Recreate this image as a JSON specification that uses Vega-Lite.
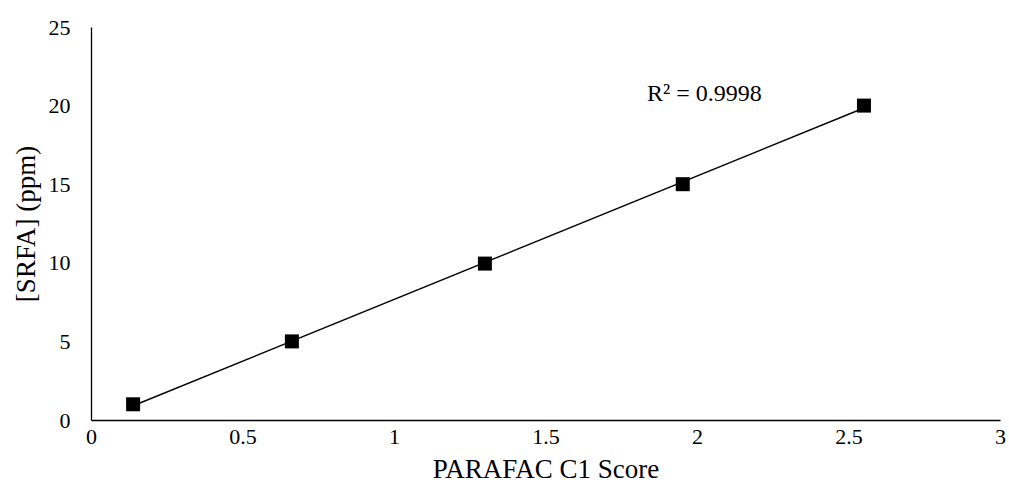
{
  "$schema": "https://vega.github.io/schema/vega-lite/v6.json",
  "autosize": "none",
  "width": 909,
  "height": 393,
  "padding": {"left": 91, "top": 27, "right": 9, "bottom": 75},
  "background": "white",
  "config": {
    "view": {"stroke": null},
    "font": "Liberation Serif",
    "axis": {
      "grid": false,
      "ticks": false,
      "domainColor": "#000000",
      "domainWidth": 1.3,
      "labelFont": "Liberation Serif",
      "labelFontSize": 22,
      "labelColor": "#000000",
      "titleFont": "Liberation Serif",
      "titleFontSize": 27,
      "titleFontWeight": "normal",
      "titleColor": "#000000"
    }
  },
  "data": {
    "values": [
      {"score": 0.139, "srfa": 1.0},
      {"score": 0.663, "srfa": 5.0},
      {"score": 1.30, "srfa": 9.95},
      {"score": 1.953, "srfa": 15.0},
      {"score": 2.551, "srfa": 20.0}
    ]
  },
  "layer": [
    {
      "transform": [{"regression": "srfa", "on": "score"}],
      "mark": {"type": "line", "color": "#000000", "strokeWidth": 1.4},
      "encoding": {
        "x": {"field": "score", "type": "quantitative"},
        "y": {"field": "srfa", "type": "quantitative"}
      }
    },
    {
      "mark": {"type": "point", "shape": "square", "filled": true, "color": "#000000", "size": 196, "opacity": 1},
      "encoding": {
        "x": {
          "field": "score",
          "type": "quantitative",
          "scale": {"domain": [0, 3], "nice": false},
          "axis": {"values": [0, 0.5, 1, 1.5, 2, 2.5, 3], "format": "~g", "labelPadding": 6, "title": "PARAFAC C1 Score", "titlePadding": 9, "labelFlush": false}
        },
        "y": {
          "field": "srfa",
          "type": "quantitative",
          "scale": {"domain": [0, 25], "nice": false},
          "axis": {"values": [0, 5, 10, 15, 20, 25], "format": "~g", "labelPadding": 21, "title": "[SRFA] (ppm)", "titlePadding": 8}
        }
      }
    },
    {
      "data": {"values": [{"label": "R² = 0.9998"}]},
      "mark": {"type": "text", "align": "left", "baseline": "alphabetic", "fontSize": 24, "font": "Liberation Serif", "color": "#000000"},
      "encoding": {
        "text": {"field": "label"},
        "x": {"datum": 1.835},
        "y": {"datum": 20.3}
      }
    }
  ]
}
